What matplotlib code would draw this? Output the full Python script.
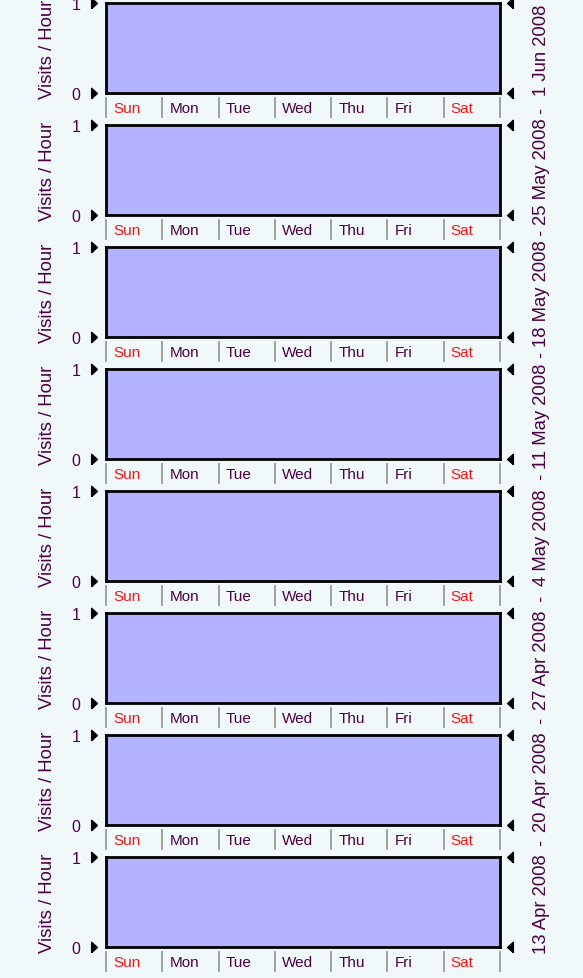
import matplotlib
matplotlib.use("Agg")
import matplotlib.pyplot as plt
import matplotlib.transforms as mtransforms

# ---- data ----
week_labels = ["1 Jun 2008", "25 May 2008", "18 May 2008", "11 May 2008",
               "4 May 2008", "27 Apr 2008", "20 Apr 2008", "13 Apr 2008"]
days = ["Sun", "Mon", "Tue", "Wed", "Thu", "Fri", "Sat"]
weekend_days = ["Sun", "Sat"]
# visits per hour, one value per day (all weeks empty)
visits_1jun = [0, 0, 0, 0, 0, 0, 0]
visits_25may = [0, 0, 0, 0, 0, 0, 0]
visits_18may = [0, 0, 0, 0, 0, 0, 0]
visits_11may = [0, 0, 0, 0, 0, 0, 0]
visits_4may = [0, 0, 0, 0, 0, 0, 0]
visits_27apr = [0, 0, 0, 0, 0, 0, 0]
visits_20apr = [0, 0, 0, 0, 0, 0, 0]
visits_13apr = [0, 0, 0, 0, 0, 0, 0]
y_ticks = [0, 1]
y_label = "Visits / Hour"

series = [visits_1jun, visits_25may, visits_18may, visits_11may,
          visits_4may, visits_27apr, visits_20apr, visits_13apr]

# ---- style ----
W, H = 583, 979
BG = "#f0f8f9"
FILL = "#b3b3ff"
TXT = "#4a0045"
RED = "#ff1010"
SEP = "#999999"
FONT = "Liberation Sans"
FS_TICK = 11.5
FS_DAY = 11
FS_LAB = 13.3

plt.rcParams["font.family"] = [FONT, "DejaVu Sans"]

fig = plt.figure(figsize=(W / 100, H / 100), dpi=100, facecolor=BG)

left_px, right_px = 106, 500
top0, box_h, pitch = 4, 90, 122

tri_right = [(-0.55, -1), (-0.55, 1), (0.55, 0), (-0.55, -1)]
tri_left = [(0.55, -1), (0.55, 1), (-0.55, 0), (0.55, -1)]

for i, (label, vals) in enumerate(zip(week_labels, series)):
    top = top0 + pitch * i
    bottom = top + box_h
    ax = fig.add_axes([left_px / W, 1 - bottom / H,
                       (right_px - left_px) / W, box_h / H])
    ax.set_facecolor(FILL)
    hours_x = [d * 24 for d in range(len(days) + 1)]
    step_vals = vals + [vals[-1]]
    ax.fill_between(hours_x, step_vals, step="post", color=FILL, lw=0)
    ax.set_xlim(0, 24 * len(days))
    ax.set_ylim(0, max(max(vals), 1))
    for sp in ax.spines.values():
        sp.set_linewidth(2)
        sp.set_color("black")
    ax.set_xticks([])
    ax.set_yticks(y_ticks)
    ax.set_yticklabels([str(t) for t in y_ticks], color=TXT, fontsize=FS_TICK)
    ax.tick_params(axis="y", length=0, pad=18.5)

    # triangle markers left and right
    tl = mtransforms.blended_transform_factory(ax.transAxes, ax.transData)
    ax.plot([-0.031] * len(y_ticks), y_ticks, marker=tri_right, ls="none",
            color="black", ms=7.5, transform=tl, clip_on=False)
    ax.plot([1.0245] * len(y_ticks), y_ticks, marker=tri_left, ls="none",
            color="black", ms=7.5, transform=tl, clip_on=False)

    # day separators and labels
    tb = mtransforms.blended_transform_factory(ax.transData, ax.transAxes)
    for d in range(len(days) + 1):
        ax.plot([d * 24, d * 24], [-4.5 / box_h, -23.5 / box_h], color=SEP,
                lw=1.3, transform=tb, clip_on=False)
    for d, name in enumerate(days):
        ax.text(d * 24 + 3.0, -15 / box_h, name, transform=tb,
                ha="left", va="center", fontsize=FS_DAY,
                color=RED if name in weekend_days else TXT)

    # y label
    fig.text(47 / W, 1 - (top + box_h / 2) / H, y_label, rotation=90,
             ha="center", va="center", fontsize=FS_LAB, color=TXT)
    # right week label
    fig.text(541 / W, 1 - (top + box_h / 2 + 1) / H, label, rotation=90,
             ha="center", va="center", fontsize=FS_LAB, color=TXT)
    if i > 0:
        fig.text(541 / W, 1 - (top - 15) / H, "-", rotation=90,
                 ha="center", va="center", fontsize=FS_LAB, color=TXT)

fig.savefig("out.png", dpi=100, facecolor=BG)
